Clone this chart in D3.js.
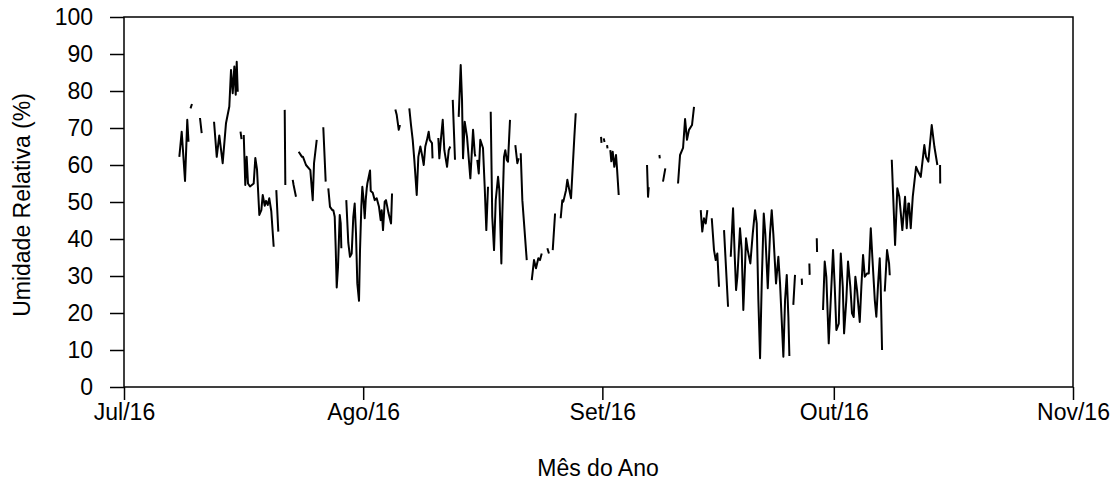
<!DOCTYPE html>
<html>
<head>
<meta charset="utf-8">
<title>Umidade Relativa</title>
<script src="https://d3js.org/d3.v7.min.js"></script>
<style>
  body { margin: 0; background: #fff; }
  text { font-family: "Liberation Sans", Arial, sans-serif; fill: #000; }
</style>
</head>
<body>
<svg width="1119" height="486"></svg>
<script>
// dias desde 01/07/2016 (fracao = hora do dia); null = falha na serie
var dias = [
  7.17,7.48,7.91,8.20,8.36,null,
  8.62,8.81,null,
  9.85,10.07,null,
  11.67,12.02,12.35,12.79,13.22,13.65,13.87,14.09,14.30,14.48,14.61,14.74,null,
  15.10,15.23,null,
  15.52,15.72,15.90,16.07,16.33,16.81,17.02,17.24,17.54,17.80,17.98,18.24,18.41,18.63,18.83,19.09,19.40,null,
  19.74,20.00,null,
  20.83,20.91,null,
  21.87,21.98,22.29,null,
  22.64,23.07,23.20,23.59,24.15,24.46,24.63,24.98,null,
  25.83,26.14,null,
  26.48,26.70,27.00,27.13,27.31,27.44,27.57,27.74,27.96,28.09,28.17,null,
  28.81,29.07,29.29,29.51,29.72,29.90,30.07,30.24,30.46,30.59,30.76,30.89,31.02,31.20,31.33,31.46,31.54,31.89,31.98,32.24,32.50,32.75,33.05,33.27,33.40,33.57,33.79,33.96,34.28,34.61,34.74,null,
  35.17,35.35,35.61,35.77,null,
  36.98,37.20,37.42,37.63,37.94,38.15,38.41,38.63,38.85,39.05,39.27,39.49,39.62,39.92,39.99,null,
  40.74,40.87,41.09,41.31,41.52,41.87,42.09,42.29,null,
  42.61,42.90,null,
  43.38,43.64,43.81,43.94,44.16,44.46,44.89,45.24,45.46,45.54,null,
  45.79,45.98,46.18,46.53,46.75,46.96,47.18,null,
  47.53,47.73,47.96,48.18,48.48,48.65,48.91,49.04,49.25,49.42,49.61,49.77,50.03,null,
  50.72,50.98,51.16,null,
  51.42,51.63,52.20,null,
  52.85,53.14,53.40,53.70,53.92,54.14,null,
  54.87,55.08,null,
  55.57,55.87,null,
  56.60,56.81,56.94,57.29,57.46,57.72,57.94,58.16,58.37,58.55,null,
  61.83,61.89,null,
  62.18,62.28,null,
  62.61,62.67,null,
  63.03,63.16,63.34,63.55,63.77,63.90,64.12,null,
  67.79,67.92,68.01,null,
  69.39,69.45,null,
  69.86,70.16,null,
  71.81,72.07,72.46,72.72,72.97,73.23,73.62,73.88,null,
  74.75,74.95,75.17,75.40,75.61,null,
  76.18,76.47,76.69,76.90,77.12,null,
  77.77,78.29,null,
  78.64,78.94,79.16,79.33,79.50,79.84,80.06,80.27,80.49,80.62,80.84,81.18,81.49,81.79,82.01,82.22,82.44,82.66,82.92,83.12,83.44,83.73,83.95,84.16,84.51,84.81,85.03,85.46,85.68,85.90,86.11,86.24,null,
  86.75,86.97,null,
  87.84,87.88,null,
  88.83,88.87,null,
  89.79,89.83,null,
  90.60,90.82,91.03,91.34,91.60,91.90,92.12,92.33,92.64,92.90,93.16,93.33,93.62,93.84,94.14,94.36,94.58,94.79,95.01,95.36,95.57,95.79,96.01,96.31,96.53,96.79,96.99,97.31,97.51,97.73,97.95,98.08,98.25,null,
  98.60,98.90,99.16,99.25,null,
  99.51,99.94,100.23,100.49,100.88,101.23,101.45,101.66,101.75,101.97,102.23,102.66,102.95,103.27,103.73,103.95,104.25,104.69,105.03,105.42,null,
  105.77,105.79
];

// umidade relativa (%)
var umidade = [
  62.2,69.0,55.7,72.2,66.3,null,
  75.3,76.5,null,
  72.7,68.6,null,
  71.7,62.2,68.0,60.5,71.3,75.8,85.7,79.4,86.6,79.0,87.9,79.8,null,
  69.0,67.0,null,
  68.1,54.6,62.2,55.0,54.2,55.0,61.9,58.8,46.5,47.8,51.9,49.0,50.3,49.2,51.0,47.5,37.9,null,
  53.2,42.0,null,
  74.9,54.6,null,
  56.0,54.6,51.4,null,
  63.6,62.2,62.2,60.0,58.6,50.5,60.5,66.8,null,
  70.2,55.5,null,
  53.7,48.7,47.8,47.8,46.0,37.5,26.9,32.5,46.5,44.2,37.5,null,
  50.5,39.0,35.2,36.1,46.0,49.6,41.4,28.0,23.3,37.0,48.7,54.1,51.4,45.6,50.5,53.7,55.0,58.5,53.0,52.5,50.5,51.0,48.7,45.1,47.8,42.4,50.1,50.5,47.0,44.2,52.3,null,
  75.0,73.5,69.5,70.8,null,
  75.3,70.8,66.8,61.4,51.9,62.2,65.0,62.7,60.0,65.0,66.8,69.0,66.8,65.9,61.8,null,
  67.3,61.8,67.3,72.2,64.0,59.5,64.0,65.0,null,
  77.6,61.4,null,
  73.0,87.0,77.6,61.8,71.7,67.6,56.4,69.5,63.2,62.3,null,
  61.4,57.7,66.8,64.6,54.1,42.4,54.1,null,
  74.4,46.0,37.0,50.5,56.8,53.2,33.4,46.9,62.2,64.0,61.4,60.9,72.2,null,
  65.4,60.5,61.8,null,
  63.2,50.5,34.3,null,
  28.9,34.3,32.1,34.8,34.3,36.1,null,
  37.5,36.1,null,
  37.0,46.9,null,
  45.6,50.5,50.1,53.2,56.0,53.2,51.0,59.5,67.6,74.0,null,
  67.6,66.0,null,
  67.2,66.2,null,
  65.4,64.5,null,
  64.0,61.0,63.6,59.5,62.7,59.1,51.9,null,
  60.0,51.4,54.0,null,
  62.7,61.8,null,
  55.5,59.1,null,
  55.0,62.7,64.6,72.4,66.8,69.5,70.8,75.7,null,
  47.8,42.0,45.6,44.2,47.8,null,
  45.6,37.0,34.3,36.1,27.1,null,
  42.4,21.7,null,
  35.2,48.3,35.2,26.2,29.8,42.9,37.0,20.8,32.5,40.2,37.0,33.4,41.4,47.8,44.2,23.5,7.8,28.5,46.9,41.4,26.7,41.4,47.8,41.4,28.0,35.2,28.0,8.2,23.5,30.3,19.0,8.4,null,
  22.2,30.3,null,
  29.3,27.6,null,
  33.4,30.3,null,
  40.2,36.5,null,
  20.8,33.9,29.8,11.8,23.5,37.0,27.1,15.4,17.1,36.1,27.1,14.5,23.5,33.9,27.1,19.9,18.9,29.8,26.2,17.6,27.1,35.7,29.8,30.7,30.7,42.9,35.2,23.5,19.0,27.6,34.8,27.1,10.0,null,
  25.8,37.0,33.4,30.2,null,
  61.4,38.4,53.7,51.4,42.4,51.4,42.9,49.6,49.6,42.9,51.4,59.5,58.1,56.8,65.4,62.2,60.9,70.8,65.0,60.0,null,
  60.0,55.0
];

var meses = ["Jul/16", "Ago/16", "Set/16", "Out/16", "Nov/16"];
var yTicks = [0, 10, 20, 30, 40, 50, 60, 70, 80, 90, 100];

var inicio = Date.UTC(2016, 6, 1);
var dados = dias.map(function(d, i) {
    return { t: d === null ? null : new Date(inicio + d * 864e5), v: umidade[i] };
});

var svg = d3.select("svg");
var mLeft = 124, mRight = 1073, mTop = 17, mBottom = 387;
var fonte = "23px";

var x = d3.scaleUtc()
    .domain([new Date(inicio), new Date(Date.UTC(2016, 10, 1))])
    .range([mLeft, mRight]);
var y = d3.scaleLinear().domain([0, 100]).range([mBottom, mTop]);

// serie
var line = d3.line()
    .defined(function(d) { return d.v !== null; })
    .x(function(d) { return x(d.t); })
    .y(function(d) { return y(d.v); });

svg.append("path")
    .datum(dados)
    .attr("d", line)
    .attr("fill", "none")
    .attr("stroke", "#000")
    .attr("stroke-width", 2)
    .attr("stroke-linejoin", "round");

// moldura
svg.append("rect")
    .attr("x", mLeft).attr("y", mTop)
    .attr("width", mRight - mLeft).attr("height", mBottom - mTop)
    .attr("fill", "none").attr("stroke", "#000").attr("stroke-width", 1.5);

svg.append("g")
    .attr("transform", "translate(" + mLeft + ",0)")
    .call(d3.axisLeft(y).tickValues(yTicks).tickSize(14).tickSizeOuter(0).tickPadding(17));

svg.append("g")
    .attr("transform", "translate(0," + mBottom + ")")
    .call(d3.axisBottom(x)
        .tickValues(d3.utcMonth.range(new Date(inicio), new Date(Date.UTC(2016, 10, 2))))
        .tickFormat(function(d, i) { return meses[i]; })
        .tickSize(13).tickSizeOuter(0).tickPadding(4));

svg.selectAll(".domain").remove();
svg.selectAll(".tick line").attr("stroke", "#000").attr("stroke-width", 1.5);
svg.selectAll(".tick text")
    .style("font-family", '"Liberation Sans", Arial, sans-serif')
    .style("font-size", fonte)
    .attr("fill", "#000");

svg.append("text")
    .attr("x", 598).attr("y", 476)
    .attr("text-anchor", "middle")
    .style("font-size", fonte)
    .text("Mês do Ano");

svg.append("text")
    .attr("transform", "translate(30,205) rotate(-90)")
    .attr("text-anchor", "middle")
    .style("font-size", fonte)
    .text("Umidade Relativa (%)");
</script>
</body>
</html>
